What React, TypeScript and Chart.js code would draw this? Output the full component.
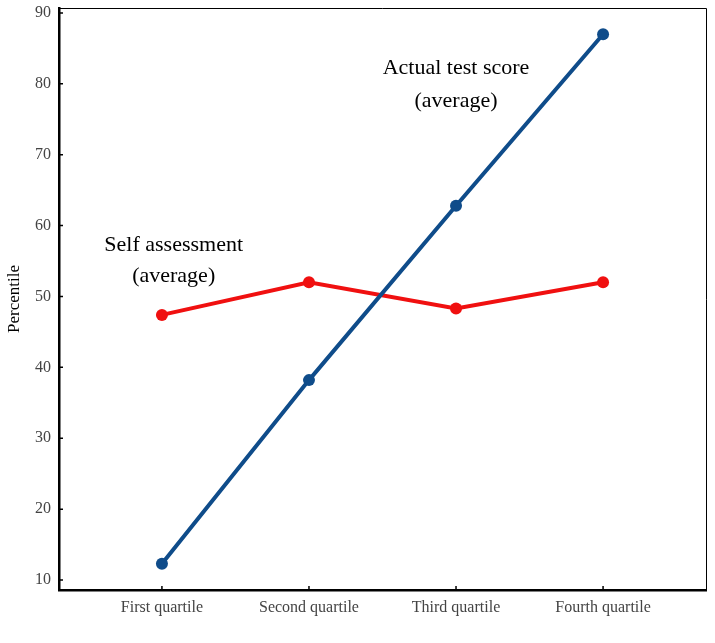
import React, { useEffect, useRef } from "react";
import { Chart, registerables } from "chart.js";

Chart.register(...registerables);

const categories = ["First quartile", "Second quartile", "Third quartile", "Fourth quartile"];
const actualScore = [12.3, 38.2, 62.8, 87.0];
const selfAssessment = [47.4, 52.0, 48.3, 52.0];
const yTicks = [10, 20, 30, 40, 50, 60, 70, 80, 90];
const annotations = [
  { lines: ["Actual test score", "(average)"], x: 2.0, y: [82.2, 77.6] },
  { lines: ["Self assessment", "(average)"], x: 0.08, y: [57.3, 52.8] },
];

const SERIF = "'Liberation Serif', 'Times New Roman', serif";

const framePlugin = {
  id: "frame",
  afterDraw(chart: any) {
    const { ctx, chartArea } = chart;
    const xs = chart.scales.x;
    const ys = chart.scales.y;
    ctx.save();
    ctx.strokeStyle = "#000";
    ctx.lineWidth = 1;
    ctx.beginPath();
    ctx.moveTo(chartArea.left, chartArea.top + 0.5);
    ctx.lineTo(chartArea.right + 0.5, chartArea.top + 0.5);
    ctx.lineTo(chartArea.right + 0.5, chartArea.bottom);
    ctx.stroke();
    ctx.lineWidth = 1.5;
    ctx.beginPath();
    yTicks.forEach((v) => {
      const py = ys.getPixelForValue(v);
      ctx.moveTo(chartArea.left, py);
      ctx.lineTo(chartArea.left + 4, py);
    });
    categories.forEach((_, i) => {
      const px = xs.getPixelForValue(i);
      ctx.moveTo(px, chartArea.bottom);
      ctx.lineTo(px, chartArea.bottom - 4);
    });
    ctx.stroke();
    ctx.fillStyle = "#000";
    ctx.font = `22px ${SERIF}`;
    ctx.textAlign = "center";
    ctx.textBaseline = "middle";
    annotations.forEach((a) => {
      a.lines.forEach((t, k) => {
        ctx.fillText(t, xs.getPixelForValue(a.x), ys.getPixelForValue(a.y[k]));
      });
    });
    ctx.restore();
  },
};

export default function App() {
  const ref = useRef<HTMLCanvasElement>(null);
  useEffect(() => {
    if (!ref.current) return;
    const chart = new Chart(ref.current, {
      type: "line",
      data: {
        datasets: [
          {
            label: "Actual test score",
            data: actualScore.map((v, i) => ({ x: i, y: v })),
            borderColor: "#0f4c8a",
            backgroundColor: "#0f4c8a",
            borderWidth: 4,
            pointRadius: 6,
            pointBorderWidth: 0,
          },
          {
            label: "Self assessment",
            data: selfAssessment.map((v, i) => ({ x: i, y: v })),
            borderColor: "#f01010",
            backgroundColor: "#f01010",
            borderWidth: 4,
            pointRadius: 6,
            pointBorderWidth: 0,
          },
        ],
      },
      plugins: [framePlugin],
      options: {
        animation: false,
        responsive: false,
        maintainAspectRatio: false,
        layout: { padding: { left: 0, top: 8, right: 9, bottom: 0 } },
        plugins: { legend: { display: false }, tooltip: { enabled: false } },
        scales: {
          x: {
            type: "linear",
            min: -0.7,
            max: 3.7,
            afterBuildTicks: (s: any) => {
              s.ticks = categories.map((_, i) => ({ value: i }));
            },
            afterFit: (s: any) => {
              s.height = 53;
              s.paddingLeft = 0;
              s.paddingRight = 0;
            },
            grid: { display: false, drawTicks: false },
            border: { display: true, color: "#000", width: 2.5 },
            ticks: {
              callback: (v: any) => categories[v] ?? "",
              color: "#444",
              font: { family: SERIF, size: 16 },
              padding: 8,
              maxRotation: 0,
            },
          },
          y: {
            type: "linear",
            min: 8.59,
            max: 90.7,
            afterBuildTicks: (s: any) => {
              s.ticks = yTicks.map((v) => ({ value: v }));
            },
            afterFit: (s: any) => {
              s.width = 59;
              s.paddingTop = 0;
              s.paddingBottom = 0;
            },
            grid: { display: false, drawTicks: false },
            border: { display: true, color: "#000", width: 2.5 },
            ticks: {
              color: "#444",
              font: { family: SERIF, size: 16 },
              padding: 8,
            },
            title: {
              display: true,
              text: "Percentile",
              color: "#000",
              font: { family: SERIF, size: 17 },
              padding: { top: 4, bottom: 0 },
            },
          },
        },
      },
    } as any);
    return () => chart.destroy();
  }, []);
  return (
    <div style={{ position: "absolute", left: 0, top: 0, width: 715, height: 643, background: "#fff" }}>
      <canvas ref={ref} width={715} height={643} style={{ display: "block" }} />
    </div>
  );
}
